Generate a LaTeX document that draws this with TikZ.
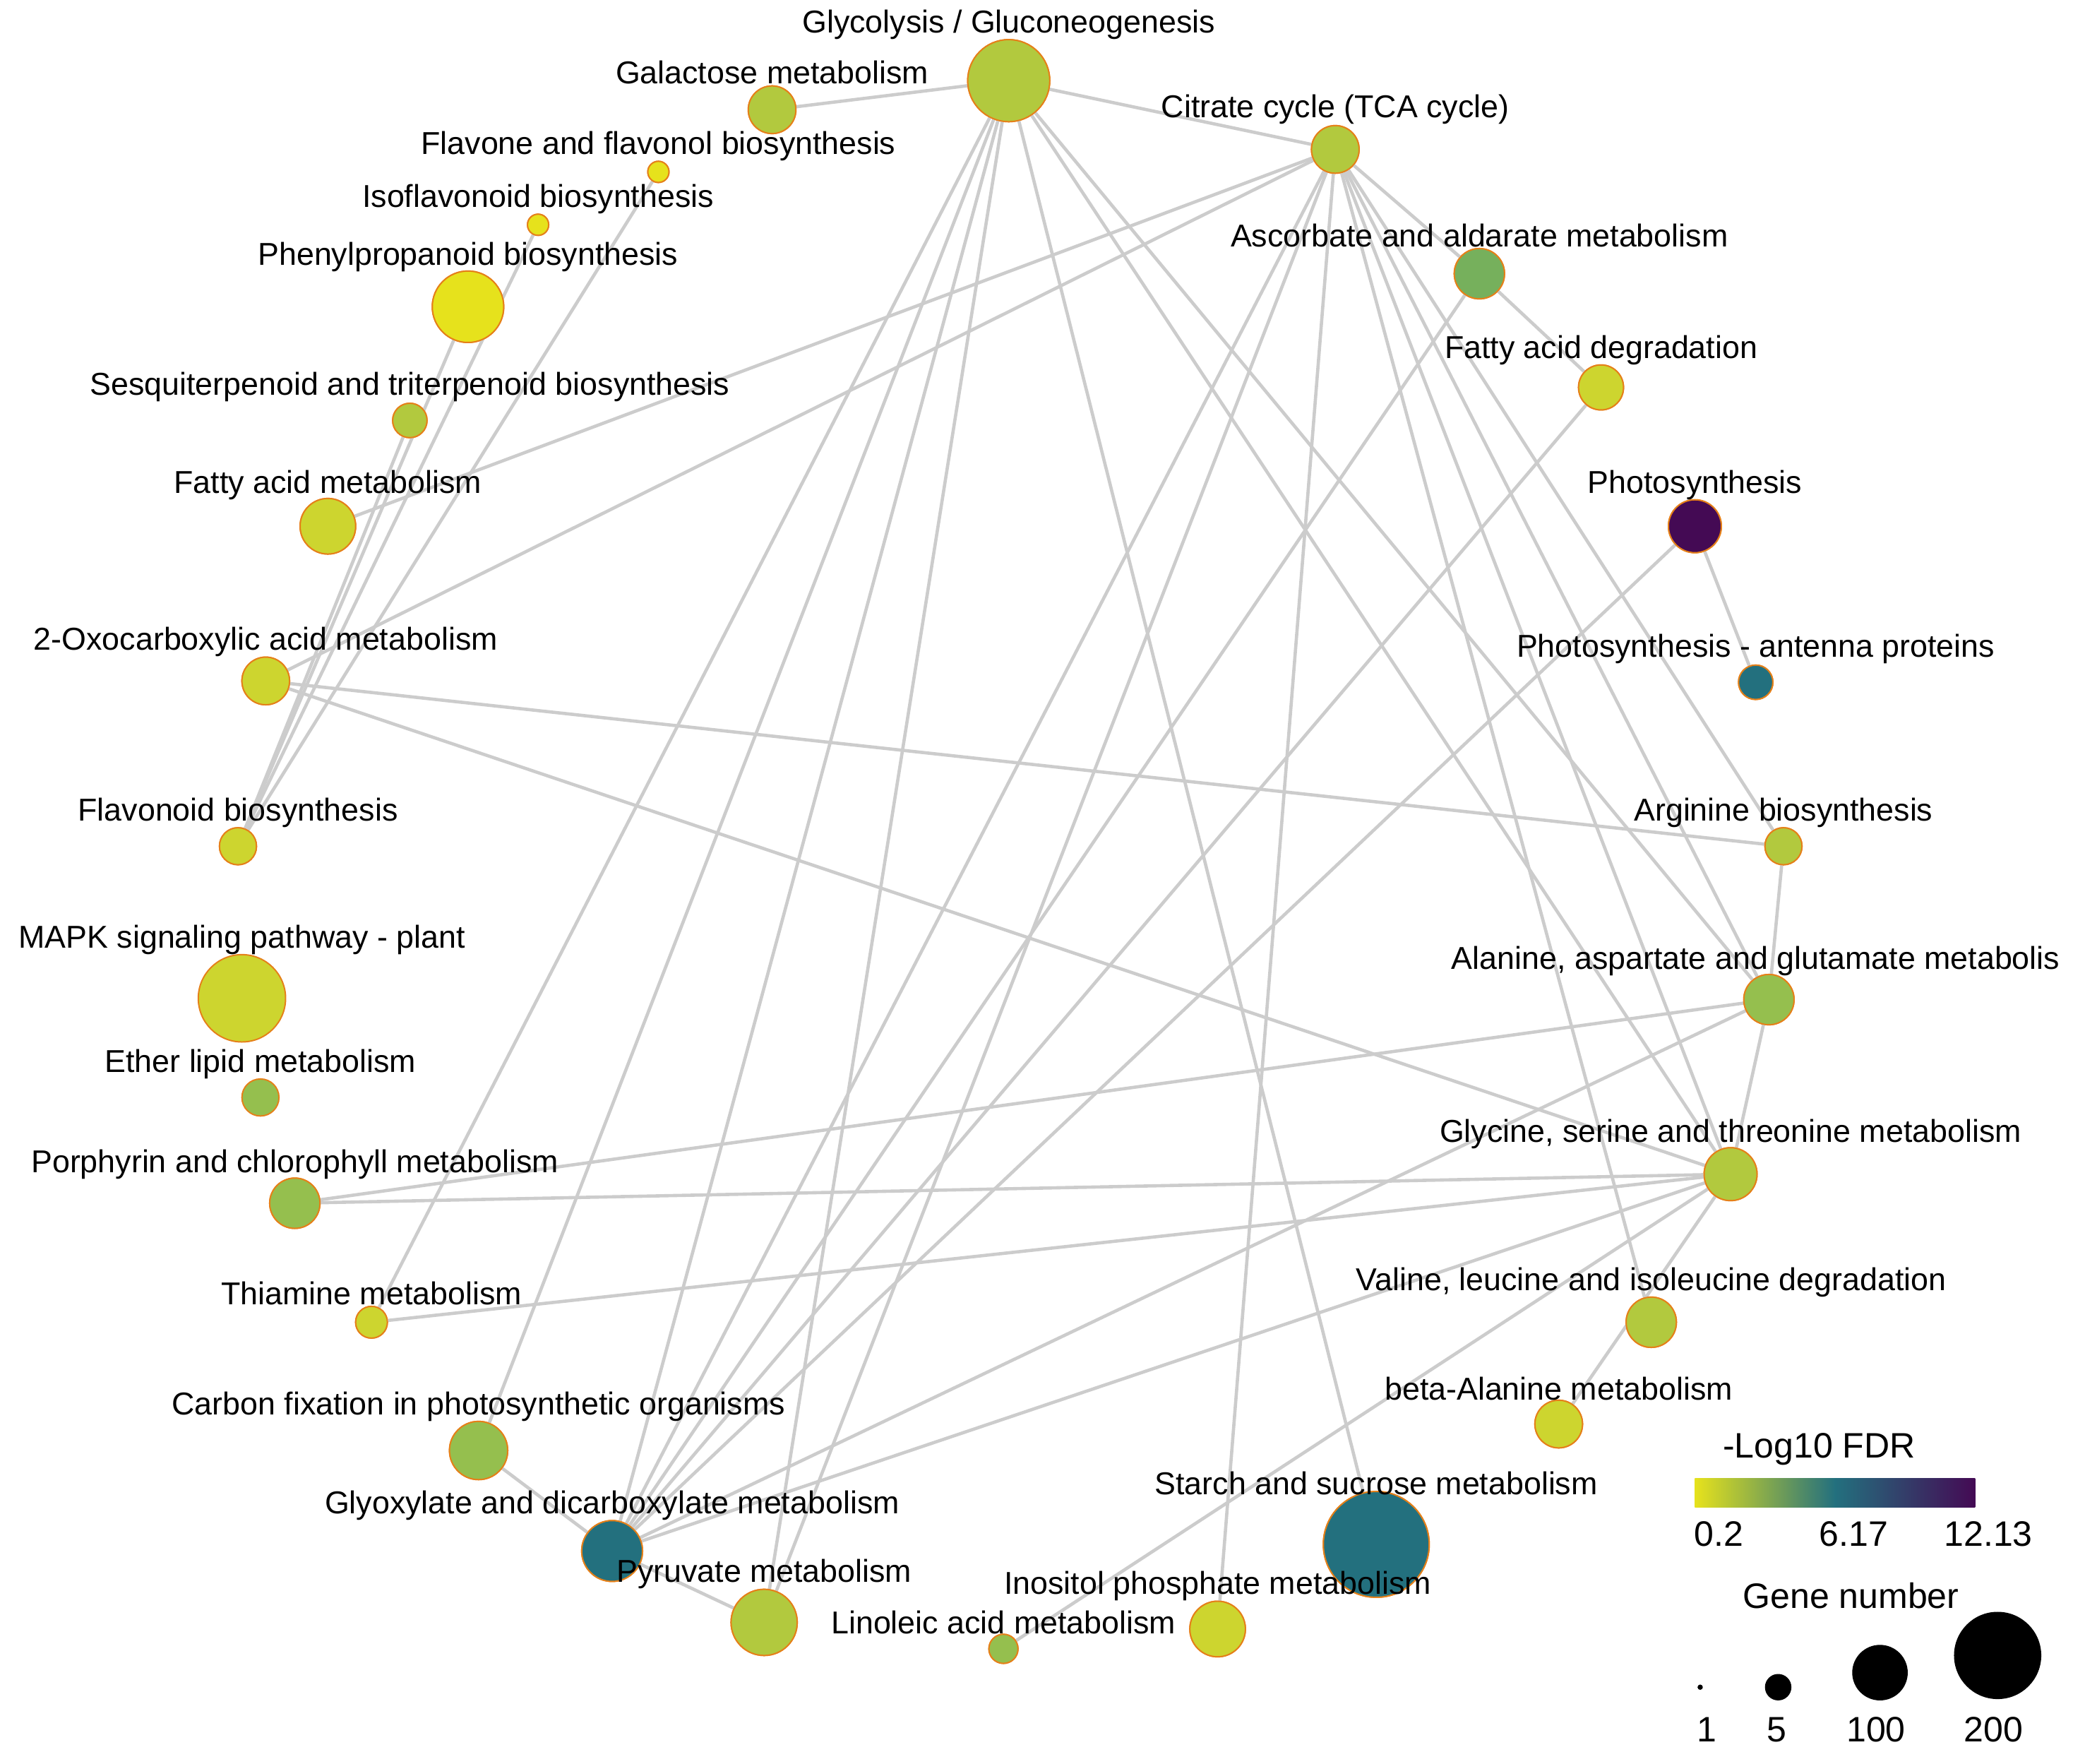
\documentclass[tikz,border=0pt]{standalone}
\usepackage{fontspec}
\setmainfont{Liberation Sans}
\begin{document}
\begin{tikzpicture}[x=0.01cm,y=-0.01cm,
 n/.style={circle,draw=orange!60!brown,line width=0.3pt,inner sep=0pt},
 e/.style={draw=black!20,line width=0.7pt},
 lb/.style={font=\fontsize{6.8}{8}\selectfont,anchor=south,inner sep=1pt},
 lg/.style={font=\fontsize{7.6}{9}\selectfont}]
\useasboundingbox (0,0) rectangle (1568,1334);
\definecolor{cY}{HTML}{E6E21C}\definecolor{cYG}{HTML}{CDD52F}\definecolor{cG}{HTML}{B2C93E}
\definecolor{cGG}{HTML}{95BF4E}\definecolor{cGr}{HTML}{76B05C}\definecolor{cT}{HTML}{23707E}
\definecolor{cP}{HTML}{440A54}
\def\N#1#2#3#4#5{\node[n,fill=#5,minimum size=#4*0.02cm] (#1) at (#2,#3) {};}
\def\L#1#2#3#4{\node[lb] (#1l) at (#2,#3-#4+6) {};}
\N{glyc}{763}{61}{31}{cG}
\N{gal}{584}{83}{18}{cG}
\N{flav}{498}{130}{8}{cY}
\N{iso}{407}{170}{8}{cY}
\N{phen}{354}{232}{27}{cY}
\N{sesq}{310}{318}{13}{cG}
\N{fam}{248}{398}{21}{cYG}
\N{oxo}{201}{515}{18}{cYG}
\N{flavo}{180}{640}{14}{cYG}
\N{mapk}{183}{755}{33}{cYG}
\N{ether}{197}{830}{14}{cGG}
\N{porph}{223}{910}{19}{cGG}
\N{thia}{281}{1000}{12}{cYG}
\N{carb}{362}{1097}{22}{cGG}
\N{glyox}{463}{1173}{23}{cT}
\N{pyr}{578}{1227}{25}{cG}
\N{lino}{759}{1247}{11}{cGG}
\N{inos}{921}{1232}{21}{cYG}
\N{starch}{1041}{1168}{40}{cT}
\N{tca}{1010}{113}{18}{cG}
\N{asc}{1119}{207}{19}{cGr}
\N{fad}{1211}{293}{17}{cYG}
\N{photo}{1282}{398}{20}{cP}
\N{ant}{1328}{516}{13}{cT}
\N{arg}{1349}{640}{14}{cG}
\N{ala}{1338}{756}{19}{cGG}
\N{gly}{1309}{888}{20}{cG}
\N{val}{1249}{1000}{19}{cG}
\N{beta}{1179}{1077}{18}{cYG}
\foreach \a/\b in {glyc/gal,glyc/tca,glyc/thia,glyc/carb,glyc/glyox,glyc/pyr,glyc/starch,glyc/ala,glyc/gly,
 tca/fam,tca/oxo,tca/asc,tca/glyox,tca/pyr,tca/inos,tca/ala,tca/gly,tca/arg,tca/val,
 asc/fad,asc/glyox,fad/glyox,photo/ant,photo/glyox,
 phen/flavo,flav/flavo,iso/flavo,sesq/flavo,
 oxo/arg,oxo/gly,ala/arg,ala/gly,ala/porph,ala/glyox,gly/porph,gly/thia,gly/glyox,gly/lino,gly/beta,
 carb/glyox,glyox/pyr}
 \draw[e] (\a) -- (\b);
% redraw circles on top
\N{glyc}{763}{61}{31}{cG}
\N{gal}{584}{83}{18}{cG}
\N{flav}{498}{130}{8}{cY}
\N{iso}{407}{170}{8}{cY}
\N{phen}{354}{232}{27}{cY}
\N{sesq}{310}{318}{13}{cG}
\N{fam}{248}{398}{21}{cYG}
\N{oxo}{201}{515}{18}{cYG}
\N{flavo}{180}{640}{14}{cYG}
\N{porph}{223}{910}{19}{cGG}
\N{thia}{281}{1000}{12}{cYG}
\N{carb}{362}{1097}{22}{cGG}
\N{glyox}{463}{1173}{23}{cT}
\N{pyr}{578}{1227}{25}{cG}
\N{lino}{759}{1247}{11}{cGG}
\N{inos}{921}{1232}{21}{cYG}
\N{starch}{1041}{1168}{40}{cT}
\N{tca}{1010}{113}{18}{cG}
\N{asc}{1119}{207}{19}{cGr}
\N{fad}{1211}{293}{17}{cYG}
\N{photo}{1282}{398}{20}{cP}
\N{ant}{1328}{516}{13}{cT}
\N{arg}{1349}{640}{14}{cG}
\N{ala}{1338}{756}{19}{cGG}
\N{gly}{1309}{888}{20}{cG}
\N{val}{1249}{1000}{19}{cG}
\N{beta}{1179}{1077}{18}{cYG}
% labels
\node[lb] (t1) at (763,34) {Glycolysis / Gluconeogenesis};
\node[lb] (t2) at (584,68) {Galactose metabolism};
\node[lb] (t3) at (498,126) {Flavone and flavonol biosynthesis};
\node[lb] (t4) at (407,166) {Isoflavonoid biosynthesis};
\node[lb] (t5) at (354,210) {Phenylpropanoid biosynthesis};
\node[lb] (t6) at (310,308) {Sesquiterpenoid and triterpenoid biosynthesis};
\node[lb] (t7) at (248,382) {Fatty acid metabolism};
\node[lb] (t8) at (201,501) {2-Oxocarboxylic acid metabolism};
\node[lb] (t9) at (180,630) {Flavonoid biosynthesis};
\node[lb] (t10) at (183,726) {MAPK signaling pathway - plant};
\node[lb] (t11) at (197,820) {Ether lipid metabolism};
\node[lb] (t12) at (223,896) {Porphyrin and chlorophyll metabolism};
\node[lb] (t13) at (281,991) {Thiamine metabolism};
\node[lb] (t14) at (362,1079) {Carbon fixation in photosynthetic organisms};
\node[lb] (t15) at (463,1154) {Glyoxylate and dicarboxylate metabolism};
\node[lb] (t16) at (578,1206) {Pyruvate metabolism};
\node[lb] (t17) at (759,1240) {Linoleic acid metabolism};
\node[lb] (t18) at (921,1215) {Inositol phosphate metabolism};
\node[lb] (t19) at (1041,1135) {Starch and sucrose metabolism};
\node[lb] (t20) at (1010,98) {Citrate cycle (TCA cycle)};
\node[lb] (t21) at (1119,191) {Ascorbate and aldarate metabolism};
\node[lb] (t22) at (1211,280) {Fatty acid degradation};
\node[lb] (t23) at (1282,382) {Photosynthesis};
\node[lb] (t24) at (1328,506) {Photosynthesis - antenna proteins};
\node[lb] (t25) at (1349,630) {Arginine biosynthesis};
\node[lb] (t26) at (1328,742) {Alanine, aspartate and glutamate metabolis};
\node[lb] (t27) at (1309,873) {Glycine, serine and threonine metabolism};
\node[lb] (t28) at (1249,985) {Valine, leucine and isoleucine degradation};
\node[lb] (t29) at (1179,1063) {beta-Alanine metabolism};
% legend
\node[lg] (lt) at (1376,1096) {-Log10 FDR};
\shade[left color=cY,right color=cP,middle color=cT] (1282,1118) rectangle (1494,1140);
\node[lg] (l1) at (1300,1160) {0.2};
\node[lg] (l2) at (1402,1160) {6.17};
\node[lg] (l3) at (1504,1160) {12.13};
\node[lg] (gt) at (1400,1207) {Gene number};
\fill (1286,1276) circle (2);
\fill (1345,1276) circle (10);
\fill (1422,1265) circle (21);
\fill (1511,1252) circle (33);
\node[lg] (m1) at (1291,1308) {1};
\node[lg] (m2) at (1344,1308) {5};
\node[lg] (m3) at (1419,1308) {100};
\node[lg] (m4) at (1508,1308) {200};
\end{tikzpicture}
\end{document}
